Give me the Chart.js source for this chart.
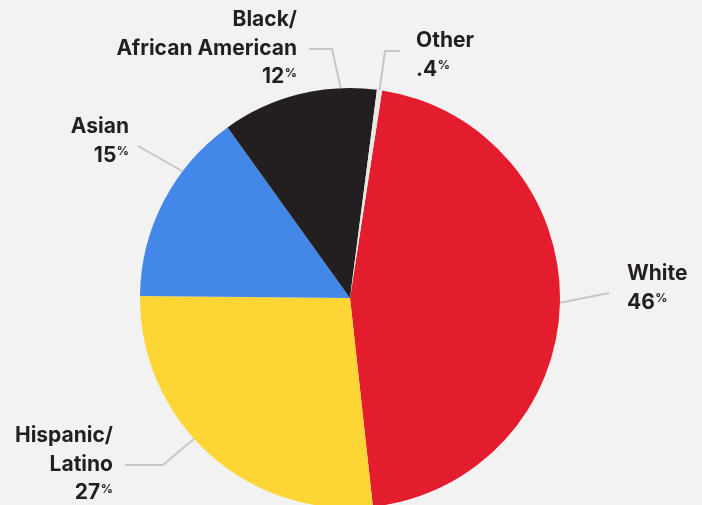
<!DOCTYPE html>
<html>
<head>
<meta charset="utf-8">
<script src="https://cdn.jsdelivr.net/npm/chart.js@4.4.0/dist/chart.umd.min.js"></script>
<style>
  html, body { margin: 0; padding: 0; background: #f2f2f2; overflow: hidden; }
  #chart1 { display: block; }
</style>
</head>
<body>
<canvas id="chart1" width="702" height="505"></canvas>
<script>
// data
const categories = ['White', 'Hispanic/\nLatino', 'Asian', 'Black/\nAfrican American', 'Other'];
const shares = [46, 27, 15, 12, 0.4];
const shareLabels = ['46', '27', '15', '12', '.4'];
const sliceColors = ['#e31c2e', '#fdd535', '#4388e8', '#231f20', '#e9e9e5'];

// label placement (at = where along the slice the leader starts)
const labelLayout = [
    { at: 0.50, path: [[609, 293]], x: 627, y: 280, align: 'left' },
    { at: 0.56, path: [[163, 465], [125, 465]], x: 113, y: 442, align: 'right' },
    { at: 0.68, path: [[138, 146]], x: 129, y: 133, align: 'right' },
    { at: 0.77, path: [[332, 49], [309, 49]], x: 297, y: 26, align: 'right' },
    { at: 0.5, path: [[385, 51], [400, 51]], x: 416, y: 47, align: 'left' }
];
const LINE_H = 28.5;
const FONT = '"Inter", "Liberation Sans", sans-serif';

const pieLabels = {
    id: 'pieLabels',
    afterDatasetsDraw(chart) {
        let ctx = chart.ctx;
        let meta = chart.getDatasetMeta(0);
        meta.data.forEach((arc, i) => {
            let p = arc.getProps(['x', 'y', 'startAngle', 'endAngle', 'outerRadius'], true);
            let L = labelLayout[i];
            let a = p.startAngle + (p.endAngle - p.startAngle) * L.at;
            let ax = p.x + Math.cos(a) * p.outerRadius;
            let ay = p.y + Math.sin(a) * p.outerRadius;

            // leader line
            ctx.save();
            ctx.strokeStyle = '#c6c6c6';
            ctx.lineWidth = 2;
            ctx.beginPath();
            ctx.moveTo(ax, ay);
            L.path.forEach(pt => ctx.lineTo(pt[0], pt[1]));
            ctx.stroke();

            // text
            ctx.fillStyle = '#231f20';
            ctx.textBaseline = 'alphabetic';
            let lines = categories[i].split('\n');
            ctx.font = '700 21px ' + FONT;
            ctx.textAlign = L.align;
            lines.forEach((t, k) => ctx.fillText(t, L.x, L.y + k * LINE_H));

            let by = L.y + lines.length * LINE_H;
            let num = shareLabels[i];
            ctx.font = '700 21px ' + FONT;
            let numW = ctx.measureText(num).width;
            ctx.font = '700 12px ' + FONT;
            let pctW = ctx.measureText('%').width;
            let startX = L.align === 'left' ? L.x : L.x - numW - pctW - 0.5;
            ctx.textAlign = 'left';
            ctx.font = '700 21px ' + FONT;
            ctx.fillText(num, startX, by);
            ctx.font = '700 12px ' + FONT;
            ctx.fillText('%', startX + numW + 0.5, by - 6.5);
            ctx.restore();
        });
    }
};

let ctx = document.getElementById('chart1').getContext('2d');
let myChart = new Chart(ctx, {
    type: 'pie',
    data: {
        labels: categories,
        datasets: [{
            data: shares,
            backgroundColor: sliceColors,
            borderWidth: 0,
            clip: false
        }]
    },
    options: {
        responsive: false,
        animation: false,
        rotation: 8.8,
        radius: 210,
        layout: { padding: { top: 91, bottom: 0, left: 0, right: 2 } },
        plugins: {
            legend: { display: false },
            tooltip: { enabled: false }
        }
    },
    plugins: [pieLabels]
});
</script>
</body>
</html>
